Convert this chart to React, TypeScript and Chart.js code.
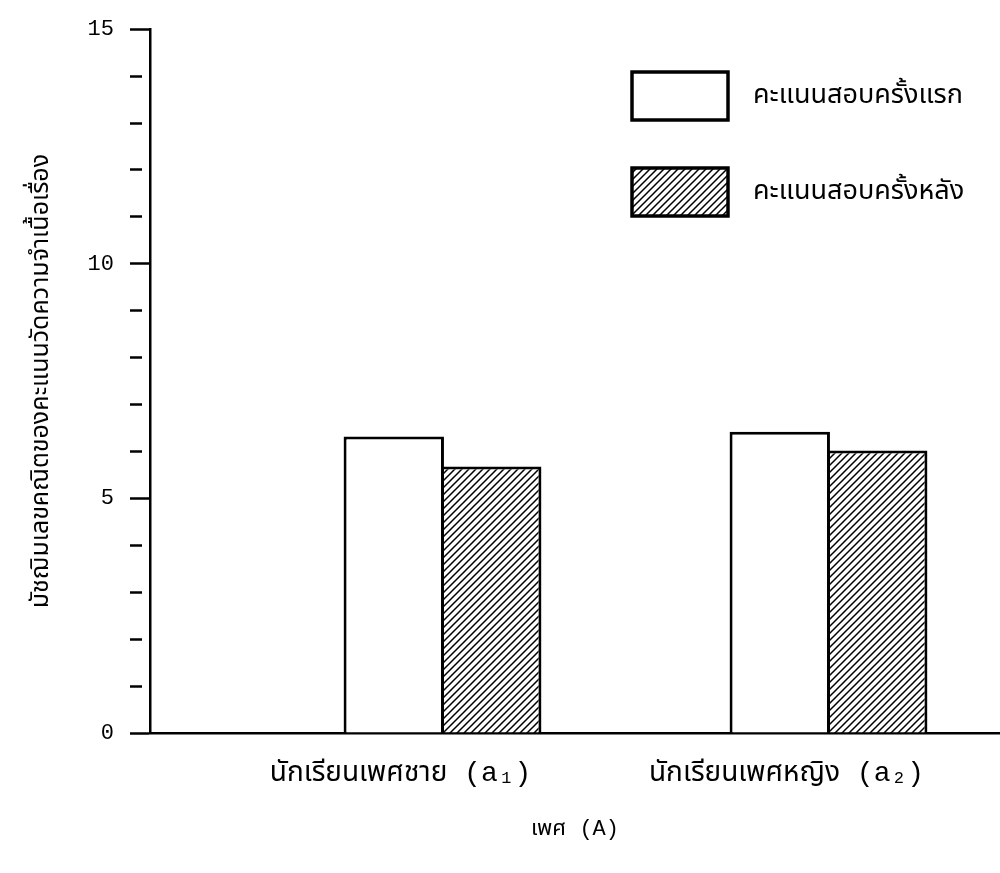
import React, { useEffect, useRef } from "react";
import { Chart, registerables } from "chart.js";

Chart.register(...registerables);

const categories = ["นักเรียนเพศชาย (a₁)", "นักเรียนเพศหญิง (a₂)"];
const seriesNames = ["คะแนนสอบครั้งแรก", "คะแนนสอบครั้งหลัง"];
const firstTest = [6.32, 6.42];
const secondTest = [5.68, 6.02];
const yTitle = "มัชฌิมเลขคณิตของคะแนนวัดความจำเนื้อเรื่อง";
const xTitle = "เพศ (A)";
const yMin = 0;
const yMax = 15;
const yMajorStep = 5;

const THAI_FONT = "'Noto Sans Thai', 'Loma', 'Garuda', 'Tlwg Typist', 'DejaVu Sans', sans-serif";
const MONO_FONT = "'Liberation Mono', 'DejaVu Sans Mono', " + THAI_FONT;

function makeHatch(): CanvasPattern | string {
  const c = document.createElement("canvas");
  const s = 7;
  c.width = s;
  c.height = s;
  const g = c.getContext("2d");
  if (!g) return "#888";
  g.fillStyle = "#fff";
  g.fillRect(0, 0, s, s);
  g.strokeStyle = "#000";
  g.lineWidth = 1.5;
  g.beginPath();
  g.moveTo(0, s);
  g.lineTo(s, 0);
  g.moveTo(-1, 1);
  g.lineTo(1, -1);
  g.moveTo(s - 1, s + 1);
  g.lineTo(s + 1, s - 1);
  g.stroke();
  const p = g.createPattern(c, "repeat");
  return p || "#888";
}

const legendPlugin = {
  id: "insideLegend",
  afterDraw(chart: any, _args: any, opts: any) {
    const ctx = chart.ctx;
    ctx.save();
    chart.data.datasets.forEach((ds: any, i: number) => {
      const x = opts.x;
      const y = opts.y + i * opts.rowGap;
      ctx.fillStyle = ds.backgroundColor;
      ctx.fillRect(x, y, opts.boxW, opts.boxH);
      ctx.lineWidth = 3.5;
      ctx.strokeStyle = "#000";
      ctx.strokeRect(x, y, opts.boxW, opts.boxH);
      ctx.fillStyle = "#000";
      ctx.font = opts.font;
      ctx.textAlign = "left";
      ctx.textBaseline = "middle";
      ctx.fillText(ds.label, x + opts.boxW + opts.textGap, y + opts.boxH / 2 + 2);
    });
    ctx.restore();
  },
};

export default function App() {
  const ref = useRef<HTMLCanvasElement | null>(null);

  useEffect(() => {
    if (!ref.current) return;
    const hatch = makeHatch();
    const chart = new Chart(ref.current, {
      type: "bar",
      data: {
        datasets: [
          {
            label: seriesNames[0],
            data: firstTest.map((v, i) => ({ x: i + 1, y: v })),
            backgroundColor: "#ffffff",
            borderColor: "#000000",
            borderWidth: 3,
          },
          {
            label: seriesNames[1],
            data: secondTest.map((v, i) => ({ x: i + 1, y: v })),
            backgroundColor: hatch as any,
            borderColor: "#000000",
            borderWidth: 3,
          },
        ],
      },
      plugins: [legendPlugin],
      options: {
        animation: false,
        responsive: false,
        devicePixelRatio: 1,
        layout: { padding: { left: 0, right: 0, top: 20, bottom: 0 } },
        datasets: {
          bar: { categoryPercentage: 0.505, barPercentage: 1.03 },
        },
        plugins: {
          legend: { display: false },
          tooltip: { enabled: false },
          insideLegend: {
            x: 632,
            y: 72,
            boxW: 96,
            boxH: 48,
            rowGap: 96,
            textGap: 25,
            font: "27px " + THAI_FONT,
          },
        } as any,
        scales: {
          x: {
            type: "linear",
            offset: false,
            min: 0.2422,
            max: 2.4443,
            afterBuildTicks: (scale: any) => {
              scale.ticks = categories.map((_, i) => ({ value: i + 1 }));
            },
            afterFit: (scale: any) => {
              scale.height = 140;
            },
            grid: { display: false, drawTicks: false },
            border: { display: true, color: "#000", width: 2.5 },
            ticks: {
              autoSkip: false,
              maxRotation: 0,
              padding: 24,
              labelOffset: -42,
              color: "#000",
              font: { family: MONO_FONT, size: 28 },
              callback: (v: any) => categories[Math.round(Number(v)) - 1] ?? "",
            },
            title: {
              display: true,
              text: xTitle,
              color: "#000",
              font: { family: MONO_FONT, size: 22 },
              padding: { top: 0, bottom: 31 },
            },
          },
          y: {
            type: "linear",
            min: yMin,
            max: yMax,
            afterFit: (scale: any) => {
              scale.width = 150;
            },
            grid: {
              drawOnChartArea: false,
              drawTicks: true,
              tickLength: 20,
              tickWidth: 2.5,
              tickColor: "#000",
              tickBorderDash: (ctx: any) =>
                ctx.tick && ctx.tick.value % yMajorStep === 0 ? [] : [12, 40],
            },
            border: { display: true, color: "#000", width: 2.5 },
            ticks: {
              stepSize: 1,
              autoSkip: false,
              padding: 16,
              color: "#000",
              font: { family: MONO_FONT, size: 22 },
              callback: (v: any) => (Number(v) % yMajorStep === 0 ? String(v) : ""),
            },
            title: {
              display: true,
              text: yTitle,
              color: "#000",
              font: { family: THAI_FONT, size: 25 },
              padding: { top: 28, bottom: 0 },
            },
          },
        },
      },
    });
    return () => chart.destroy();
  }, []);

  return (
    <div style={{ position: "fixed", left: 0, top: 0, width: 1000, height: 873, background: "#fff" }}>
      <canvas ref={ref} width={1000} height={873} style={{ width: 1000, height: 873, display: "block" }} />
    </div>
  );
}
